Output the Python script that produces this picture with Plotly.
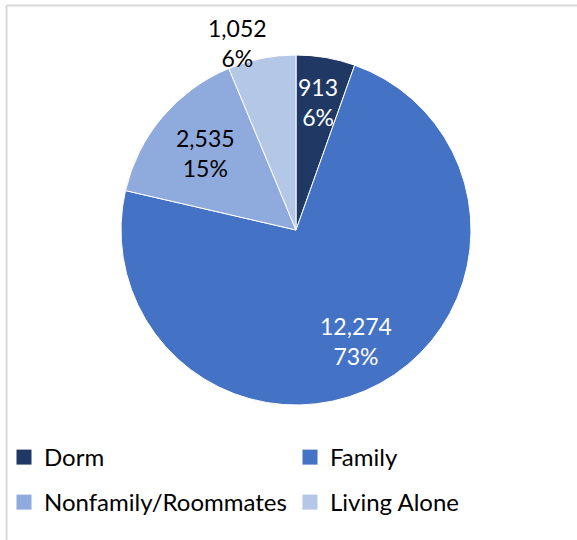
import math
import plotly.graph_objects as go

# Living arrangement categories, counts and displayed shares
categories = ["Dorm", "Family", "Nonfamily/Roommates", "Living Alone"]
counts = [913, 12274, 2535, 1052]
shares = ["6%", "73%", "15%", "6%"]
colors = ["#203864", "#4472C4", "#8FAADC", "#B4C7E7"]
label_colors = ["white", "white", "black", "black"]
# radial placement of each data label (fraction of radius) and angular nudge (deg)
label_radius = [0.74, 0.72, 0.68, 1.12]
label_nudge = [0, 0, 0, -6]
# legend row for each category (two entries per row)
legend_rows = ["legend", "legend", "legend2", "legend2"]

W, H = 577, 540
FONT = "Lato"
CX, CY, R = 296, 230, 175  # pie centre and radius in pixels

fig = go.Figure(
    go.Pie(
        labels=categories,
        values=counts,
        textinfo="none",
        marker=dict(colors=colors, line=dict(color="white", width=1)),
        sort=False,
        direction="clockwise",
        rotation=0,
        hoverinfo="label+value",
        showlegend=False,
        domain=dict(x=[(CX - R) / W, (CX + R) / W],
                    y=[1 - (CY + R) / H, 1 - (CY - R) / H]),
    )
)

# Legend entries: square swatches, one per category
for name, col, lg in zip(categories, colors, legend_rows):
    fig.add_trace(go.Scatter(
        x=[None], y=[None], mode="markers", name=name, legend=lg,
        marker=dict(symbol="square", size=15, color=col),
        hoverinfo="skip",
    ))

# Data labels, placed at each slice's mid-angle (clockwise from 12 o'clock)
total = sum(counts)
start = 0.0
for val, pct, col, rf, nudge in zip(counts, shares, label_colors,
                                    label_radius, label_nudge):
    span = 360.0 * val / total
    theta = math.radians(start + span / 2 + nudge)
    px = CX + rf * R * math.sin(theta)
    py = CY - rf * R * math.cos(theta)
    fig.add_annotation(
        x=px / W, y=1 - py / H, xref="paper", yref="paper",
        text=f"{val:,}<br>{pct}", showarrow=False,
        xanchor="center", yanchor="middle",
        font=dict(family=FONT, size=23, color=col),
    )
    start += span

# Chart-area frame (top and left edges)
frame = dict(type="line", xref="paper", yref="paper",
             line=dict(color="#D9D9D9", width=2))
fig.add_shape(**frame, x0=6 / W, y0=1 - 5.5 / H, x1=1, y1=1 - 5.5 / H)
fig.add_shape(**frame, x0=6.5 / W, y0=1 - 5.5 / H, x1=6.5 / W, y1=0)

legend_style = dict(
    orientation="h",
    x=4 / W,
    xanchor="left",
    yanchor="top",
    entrywidth=241,
    entrywidthmode="pixels",
    itemwidth=30,
    itemsizing="trace",
    bgcolor="rgba(0,0,0,0)",
    font=dict(family=FONT, size=24, color="black"),
    traceorder="normal",
)

fig.update_layout(
    width=W,
    height=H,
    margin=dict(l=0, r=0, t=0, b=0),
    paper_bgcolor="white",
    plot_bgcolor="white",
    font=dict(family=FONT, size=24, color="black"),
    showlegend=True,
    xaxis=dict(visible=False),
    yaxis=dict(visible=False),
    legend=dict(**legend_style, y=1 - 435 / H),
    legend2=dict(**legend_style, y=1 - 480 / H),
)

fig.write_html("out.html")
